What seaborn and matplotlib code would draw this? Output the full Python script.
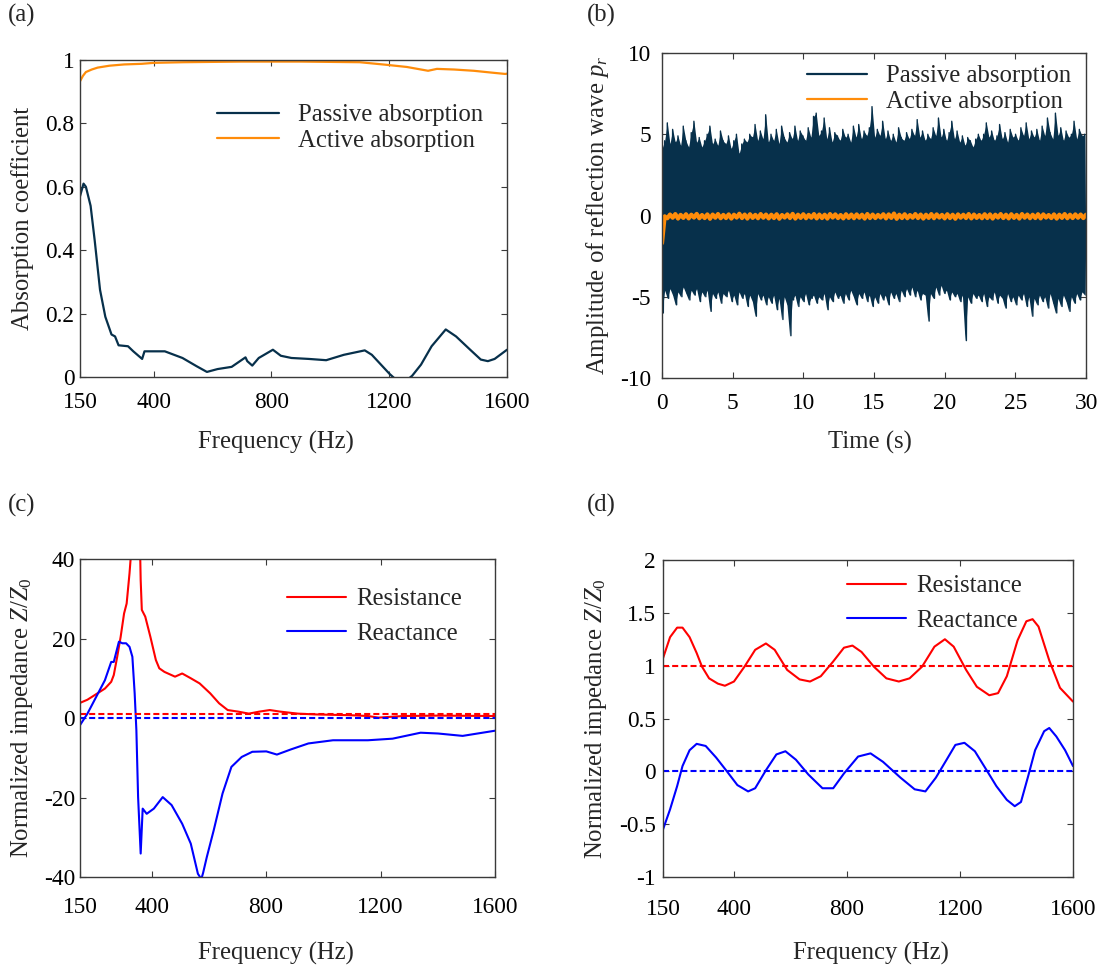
import numpy as np
import pandas as pd
import matplotlib
matplotlib.use('Agg')
import matplotlib.pyplot as plt
from matplotlib.ticker import FuncFormatter
import seaborn as sns

# ---------------- (a) absorption coefficient ----------------
a_pass_f = [150, 162, 170, 186, 200, 218, 236, 257, 269, 281, 313, 331, 361, 369, 438, 498, 546,
            581, 617, 665, 712, 718, 735, 757, 805, 832, 868, 927, 986, 1046, 1117, 1141, 1177,
            1201, 1225, 1260, 1278, 1308, 1344, 1392, 1427, 1475, 1511, 1535, 1558, 1600]
a_pass_v = [0.57, 0.61, 0.60, 0.54, 0.43, 0.275, 0.19, 0.134, 0.128, 0.10, 0.097, 0.081, 0.057,
            0.081, 0.081, 0.06, 0.034, 0.016, 0.025, 0.032, 0.062, 0.05, 0.036, 0.06, 0.086, 0.067,
            0.06, 0.057, 0.053, 0.07, 0.084, 0.07, 0.034, 0.01, -0.01, -0.01, 0.004, 0.039, 0.097,
            0.15, 0.128, 0.086, 0.055, 0.05, 0.057, 0.086]
a_act_f = [150, 160, 170, 190, 210, 250, 300, 360, 400, 500, 700, 900, 1100, 1189, 1260, 1332,
           1362, 1420, 1487, 1550, 1594, 1600]
a_act_v = [0.933, 0.950, 0.962, 0.970, 0.976, 0.982, 0.986, 0.988, 0.991, 0.993, 0.995, 0.995,
           0.993, 0.985, 0.978, 0.966, 0.972, 0.970, 0.966, 0.960, 0.956, 0.957]

# ---------------- (b) reflection wave amplitude (peak values, read in time order) ----------------
b_pass_upper = [4.1, 4.6, 5.7, 4.4, 5.3, 4.5, 4.9, 4.3, 5.5, 4.6, 4.2, 5.1, 5.8, 4.5, 4.8, 4.2, 4.6, 5.0, 5.5, 4.4,
                4.7, 4.3, 5.2, 4.6, 4.4, 4.9, 4.1, 4.6, 5.0, 3.8, 4.4, 4.7, 4.5, 5.0, 4.8, 5.6, 4.6, 5.2, 4.7, 6.2,
                4.5, 5.0, 4.6, 5.3, 4.4, 5.5, 4.8, 4.5, 5.1, 4.7, 5.5, 4.6, 5.2, 4.9, 4.6, 5.4, 4.8, 6.1, 6.3, 4.9,
                5.2, 6.0, 4.7, 5.4, 4.5, 5.1, 4.9, 4.6, 5.3, 4.8, 5.0, 4.5, 5.5, 4.8, 5.6, 4.7, 5.2, 4.9, 5.4, 6.7,
                4.8, 5.3, 4.9, 5.8, 4.7, 5.2, 4.6, 5.0, 4.5, 5.4, 4.8, 4.6, 5.1, 4.7, 5.3, 4.9, 5.9, 4.8, 5.2, 4.6,
                5.0, 4.7, 5.4, 4.9, 6.0, 4.8, 5.3, 4.6, 5.1, 5.8, 4.7, 5.2, 4.5, 4.9, 4.3, 4.8, 4.6, 4.2, 4.7, 5.0,
                4.6, 5.0, 5.7, 4.8, 5.2, 4.6, 4.9, 5.6, 4.7, 5.1, 4.5, 5.3, 4.8, 5.0, 4.6, 5.4, 4.9, 5.7, 4.7, 5.2,
                4.8, 5.3, 4.6, 5.5, 4.9, 6.0, 5.1, 4.7, 6.3, 4.9, 5.4, 4.6, 5.2, 4.8, 5.0, 5.8, 4.7, 5.3, 4.9, 5.0]
b_pass_lower = [-6.0, -4.6, -5.1, -4.5, -4.9, -5.5, -4.7, -5.0, -4.4, -4.8, -5.2, -4.6, -4.9, -4.5, -5.3, -4.7, -5.0, -4.6, -5.9, -4.8,
                -5.1, -4.7, -5.4, -4.8, -5.0, -4.6, -5.3, -4.9, -5.5, -4.7, -5.1, -4.8, -5.6, -4.9, -5.3, -6.2, -4.8, -5.2, -4.9, -5.5,
                -5.0, -5.4, -4.9, -5.8, -5.1, -6.4, -5.0, -5.5, -7.4, -5.2, -4.9, -5.6, -5.0, -5.3, -4.8, -5.5, -5.1, -4.9, -5.4, -5.0,
                -5.2, -4.8, -5.8, -5.0, -5.3, -4.7, -5.1, -4.9, -5.4, -4.8, -5.2, -4.6, -5.0, -5.5, -4.8, -5.1, -4.7, -5.3, -4.9, -5.6,
                -5.0, -5.4, -4.8, -5.2, -4.9, -5.5, -4.7, -5.1, -4.8, -5.3, -4.6, -5.0, -4.5, -4.9, -4.4, -5.0, -4.6, -5.2, -4.8, -4.9,
                -6.5, -4.8, -5.1, -4.4, -4.9, -4.3, -4.8, -4.6, -5.2, -4.7, -5.0, -4.8, -5.3, -4.9, -7.7, -5.0, -5.4, -4.8, -5.1, -4.9,
                -5.3, -4.8, -5.6, -5.0, -5.2, -4.7, -5.4, -4.9, -5.1, -5.7, -4.8, -5.3, -5.0, -5.5, -4.9, -5.2, -4.8, -5.6, -5.0, -6.2,
                -5.1, -5.5, -4.9, -5.3, -5.0, -5.7, -4.8, -5.4, -6.0, -5.1, -5.6, -4.9, -5.3, -5.9, -5.0, -5.4, -4.8, -5.2, -4.7, -4.9]
b_act_upper = [-0.05, 0.06, 0.09, 0.04, 0.08, 0.05, 0.10, 0.03, 0.07, 0.06, 0.09, 0.04, 0.07, 0.05, 0.11, 0.06,
               0.08, 0.04, 0.09, 0.06, 0.05, 0.08, 0.03, 0.07, 0.10, 0.05, 0.08, 0.04, 0.09, 0.06, 0.05, 0.09,
               0.07, 0.03, 0.08, 0.06, 0.07, 0.05, 0.09, 0.06, 0.04, 0.08, 0.07, 0.12, 0.05, 0.08, 0.03, 0.09,
               0.06, 0.05, 0.09, 0.07, 0.04, 0.08, 0.05, 0.07, 0.05, 0.09, 0.06, 0.03, 0.08, 0.07, 0.05, 0.09,
               0.05, 0.08, 0.04, 0.09, 0.06, 0.05, 0.08, 0.07, 0.03, 0.07, 0.05, 0.09, 0.05, 0.07, 0.06, 0.05]
b_act_lower = [-1.70, -0.17, -0.14, -0.19, -0.15, -0.18, -0.13, -0.17, -0.16, -0.20, -0.14, -0.17, -0.16, -0.19, -0.13, -0.16,
               -0.19, -0.15, -0.17, -0.14, -0.18, -0.16, -0.20, -0.13, -0.16, -0.19, -0.15, -0.17, -0.14, -0.18, -0.16, -0.19,
               -0.13, -0.16, -0.18, -0.15, -0.17, -0.14, -0.19, -0.16, -0.16, -0.13, -0.18, -0.15, -0.20, -0.16, -0.17, -0.14,
               -0.16, -0.19, -0.15, -0.17, -0.13, -0.18, -0.16, -0.20, -0.14, -0.16, -0.18, -0.15, -0.17, -0.16, -0.19, -0.13,
               -0.16, -0.18, -0.15, -0.19, -0.14, -0.17, -0.16, -0.18, -0.13, -0.16, -0.19, -0.15, -0.17, -0.16, -0.14, -0.16]
b_duration = 30.0

# ---------------- (c) impedance, passive ----------------
c_res_f = [150, 176, 200, 237, 259, 268, 280, 292, 304, 313, 323, 329, 340, 352, 360, 362, 366, 378,
           396, 415, 427, 445, 482, 507, 537, 568, 605, 636, 666, 703, 740, 776, 813, 850, 911, 972,
           1095, 1156, 1193, 1279, 1402, 1600]
c_res_v = [3.8, 4.6, 5.7, 7.4, 9.1, 10.8, 15.4, 20.4, 26.3, 28.8, 36.4, 42, 60, 60, 42, 34.7, 27.2,
           25.5, 20.4, 14.6, 12.5, 11.6, 10.4, 11.2, 10.0, 8.7, 6.2, 3.7, 2.0, 1.6, 1.1, 1.6, 2.0,
           1.6, 1.1, 0.9, 0.7, 0.5, 0.1, 0.5, 0.6, 0.5]
c_rea_f = [150, 176, 213, 237, 259, 268, 286, 298, 311, 323, 333, 341, 347, 353, 362, 369, 383, 408,
           439, 470, 507, 537, 562, 574, 580, 593, 617, 648, 679, 715, 752, 801, 838, 887, 948, 1034,
           1156, 1242, 1340, 1401, 1487, 1600]
c_rea_v = [-1.8, 1.1, 6.2, 9.5, 14.1, 14.1, 19.2, 18.8, 18.8, 17.9, 15.4, 6.2, -3.1, -19.9, -34.1,
           -22.8, -24.1, -22.8, -19.9, -21.9, -26.6, -31.6, -39.2, -40.5, -39.0, -35.0, -28.3, -19.0,
           -12.3, -9.8, -8.5, -8.4, -9.2, -7.9, -6.4, -5.6, -5.6, -5.2, -3.7, -3.9, -4.5, -3.2]

# ---------------- (d) impedance, active ----------------
d_res_f = [150, 175, 200, 219, 244, 269, 288, 313, 344, 369, 401, 438, 476, 514, 545, 589, 633, 670,
           708, 752, 790, 820, 852, 896, 940, 984, 1022, 1066, 1110, 1147, 1178, 1222, 1260, 1304,
           1335, 1366, 1404, 1435, 1457, 1478, 1516, 1554, 1600]
d_res_v = [1.07, 1.27, 1.36, 1.36, 1.27, 1.12, 0.99, 0.88, 0.83, 0.81, 0.85, 0.99, 1.15, 1.21, 1.15,
           0.96, 0.87, 0.85, 0.90, 1.04, 1.17, 1.19, 1.13, 0.99, 0.88, 0.85, 0.88, 0.99, 1.18, 1.25,
           1.18, 0.96, 0.80, 0.72, 0.74, 0.90, 1.24, 1.42, 1.44, 1.37, 1.05, 0.79, 0.66]
d_rea_f = [150, 175, 200, 219, 244, 269, 301, 338, 376, 413, 451, 476, 514, 551, 583, 620, 664, 714,
           752, 790, 840, 884, 928, 990, 1040, 1078, 1115, 1153, 1184, 1216, 1253, 1297, 1329, 1366,
           1394, 1416, 1441, 1466, 1498, 1516, 1541, 1572, 1600]
d_rea_v = [-0.55, -0.36, -0.14, 0.05, 0.20, 0.26, 0.24, 0.13, 0.0, -0.13, -0.19, -0.16, 0.01, 0.16,
           0.19, 0.11, -0.03, -0.16, -0.16, -0.02, 0.14, 0.17, 0.09, -0.06, -0.17, -0.19, -0.06,
           0.11, 0.25, 0.27, 0.19, 0.0, -0.14, -0.27, -0.33, -0.29, -0.05, 0.20, 0.38, 0.41, 0.33,
           0.20, 0.05]

ref_resistance = 1.0
ref_reactance = 0.0

freq_ticks = [150, 400, 800, 1200, 1600]

# ---------------- styling ----------------
sns.set_style('ticks')
plt.rcParams['font.family'] = ['Liberation Serif', 'DejaVu Serif']
plt.rcParams['mathtext.fontset'] = 'custom'
plt.rcParams['mathtext.rm'] = 'Liberation Serif'
plt.rcParams['mathtext.it'] = 'Liberation Serif:italic'
plt.rcParams['axes.unicode_minus'] = False

NAVY = '#07304b'
ORANGE = '#ff8c0a'
RED = '#ff0000'
BLUE = '#0000ff'
SPINE = '#3a3a3a'
FS = 17.8
TFS = 16.8

W, H = 1105, 971
fig = plt.figure(figsize=(W / 100, H / 100), dpi=100)


def add_ax(left, top, right, bottom):
    return fig.add_axes([left / W, 1 - bottom / H, (right - left) / W, (bottom - top) / H])


def style(ax, xpad, ypad):
    for s in ax.spines.values():
        s.set_color(SPINE)
        s.set_linewidth(1.0)
        s.set_visible(True)
    ax.tick_params(direction='in', top=True, right=True, length=4, width=0.8,
                   colors=SPINE, labelcolor='black', labelsize=TFS)
    ax.tick_params(axis='x', pad=xpad)
    ax.tick_params(axis='y', pad=ypad)
    ax.yaxis.set_major_formatter(FuncFormatter(lambda v, _: f'{v:g}'))
    ax.xaxis.set_major_formatter(FuncFormatter(lambda v, _: f'{v:g}'))


def labels(ax, xl, yl, xc, yc):
    ax.set_xlabel(xl, fontsize=FS)
    ax.set_ylabel(yl, fontsize=FS)
    ax.xaxis.label.set_va('center')
    ax.yaxis.label.set_va('center')
    ax.xaxis.set_label_coords(*xc)
    ax.yaxis.set_label_coords(*yc)


def legend(ax, anchor, hl, htp, ls, lw=None):
    lg = ax.legend(loc='upper left', bbox_to_anchor=anchor, frameon=False, fontsize=FS,
                   handlelength=hl, handletextpad=htp, labelspacing=ls, borderpad=0,
                   borderaxespad=0)
    if lw is not None:
        for line in lg.get_lines():
            line.set_linewidth(lw)
    return lg


# (a)
axa = add_ax(80, 60, 507, 377)
df_ap = pd.DataFrame({'f': a_pass_f, 'v': a_pass_v})
df_aa = pd.DataFrame({'f': a_act_f, 'v': a_act_v})
sns.lineplot(data=df_ap, x='f', y='v', ax=axa, color=NAVY, lw=1.6, label='Passive absorption',
             estimator=None, sort=False)
sns.lineplot(data=df_aa, x='f', y='v', ax=axa, color=ORANGE, lw=1.6, label='Active absorption',
             estimator=None, sort=False)
axa.set_xlim(150, 1600)
axa.set_ylim(0, 1)
axa.set_xticks(freq_ticks)
axa.set_yticks([0, 0.2, 0.4, 0.6, 0.8, 1.0])
style(axa, 10.5, 4)
labels(axa, 'Frequency (Hz)', 'Absorption coefficient', (0.459, -0.205), (-0.134, 0.5))
legend(axa, (0.322, 0.861), 2.48, 0.78, 0.12)

# (b)
axb = add_ax(662, 53, 1086, 378)
n_b = len(b_pass_upper)
pass_y = np.empty(2 * n_b)
pass_y[0::2] = b_pass_upper
pass_y[1::2] = b_pass_lower
pass_t = np.linspace(0, b_duration, 2 * n_b)
n_o = len(b_act_upper)
act_y = np.empty(2 * n_o)
act_y[0::2] = b_act_lower
act_y[1::2] = b_act_upper
act_t = np.linspace(0, b_duration, 2 * n_o)
# dense signal body between the read peak envelopes
axb.fill_between(pass_t[0::2], b_pass_upper, b_pass_lower, color=NAVY, lw=0)
sns.lineplot(x=pass_t, y=pass_y, ax=axb, color=NAVY, lw=1.0, label='Passive absorption',
             estimator=None, sort=False)
sns.lineplot(x=act_t, y=act_y, ax=axb, color=ORANGE, lw=3.0, label='Active absorption',
             estimator=None, sort=False)
axb.set_xlim(0, 30)
axb.set_ylim(-10, 10)
axb.set_xticks([0, 5, 10, 15, 20, 25, 30])
axb.set_yticks([-10, -5, 0, 5, 10])
style(axb, 10.5, 8)
labels(axb, 'Time (s)', 'Amplitude of reflection wave $p_r$', (0.491, -0.197), (-0.152, 0.5))
legend(axb, (0.341, 0.963), 2.44, 0.79, 0.12, lw=1.6)

# (c)
axc = add_ax(80, 559, 495, 877)
sns.lineplot(data=pd.DataFrame({'f': c_res_f, 'v': c_res_v}), x='f', y='v', ax=axc, color=RED,
             lw=1.5, label='Resistance', estimator=None, sort=False)
sns.lineplot(data=pd.DataFrame({'f': c_rea_f, 'v': c_rea_v}), x='f', y='v', ax=axc, color=BLUE,
             lw=1.5, label='Reactance', estimator=None, sort=False)
axc.axhline(ref_resistance, color=RED, lw=1.5, ls=(0, (2.9, 1.5)))
axc.axhline(ref_reactance, color=BLUE, lw=1.5, ls=(0, (2.9, 1.5)))
axc.set_xlim(150, 1600)
axc.set_ylim(-40, 40)
axc.set_xticks(freq_ticks)
axc.set_yticks([-40, -20, 0, 20, 40])
style(axc, 14.5, 3.6)
labels(axc, 'Frequency (Hz)', 'Normalized impedance $Z/Z_0$', (0.471, -0.239), (-0.139, 0.5))
legend(axc, (0.499, 0.909), 2.39, 0.43, 0.5)

# (d)
axd = add_ax(663, 560, 1073, 877)
sns.lineplot(data=pd.DataFrame({'f': d_res_f, 'v': d_res_v}), x='f', y='v', ax=axd, color=RED,
             lw=1.5, label='Resistance', estimator=None, sort=False)
sns.lineplot(data=pd.DataFrame({'f': d_rea_f, 'v': d_rea_v}), x='f', y='v', ax=axd, color=BLUE,
             lw=1.5, label='Reactance', estimator=None, sort=False)
axd.axhline(ref_resistance, color=RED, lw=1.5, ls=(0, (2.9, 1.5)))
axd.axhline(ref_reactance, color=BLUE, lw=1.5, ls=(0, (2.9, 1.5)))
axd.set_xlim(150, 1600)
axd.set_ylim(-1, 2)
axd.set_xticks(freq_ticks)
axd.set_yticks([-1, -0.5, 0, 0.5, 1, 1.5, 2])
style(axd, 15.5, 5)
labels(axd, 'Frequency (Hz)', 'Normalized impedance $Z/Z_0$', (0.506, -0.240), (-0.164, 0.5))
legend(axd, (0.449, 0.953), 2.37, 0.43, 0.5)

for txt, x, y in [('(a)', 8, 15), ('(b)', 587, 15), ('(c)', 8, 505), ('(d)', 587, 505)]:
    fig.text(x / W, 1 - y / H, txt, fontsize=FS, ha='left', va='center')

fig.savefig('out.png', dpi=100)
